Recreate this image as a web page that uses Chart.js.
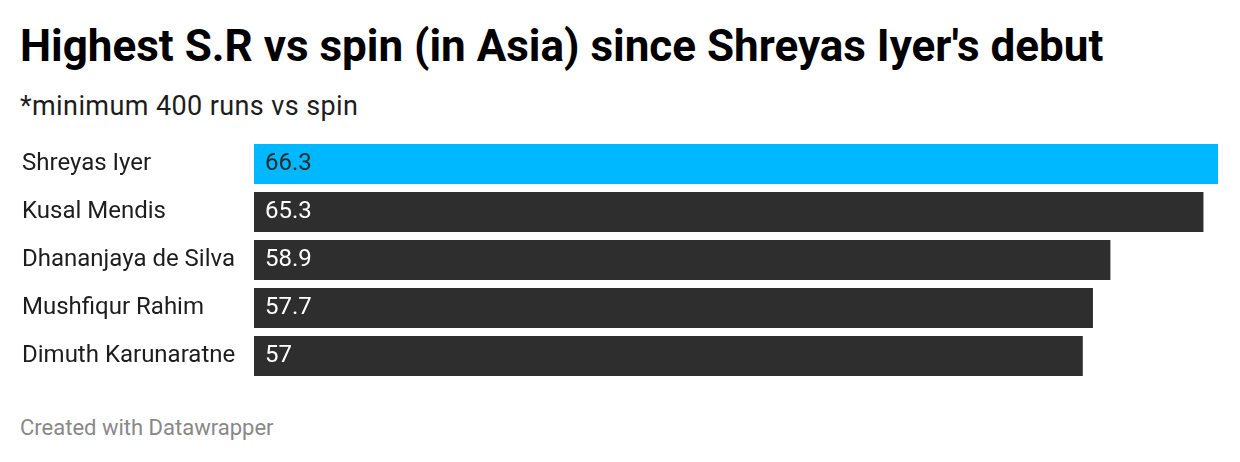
<!DOCTYPE html>
<html>
<head>
<meta charset="utf-8">
<script src="https://cdn.jsdelivr.net/npm/chart.js@4"></script>
<style>
  html, body { margin: 0; padding: 0; background: #fff; }
  body { width: 1240px; height: 462px; position: relative; overflow: hidden; font-family: Roboto, sans-serif; }
  .txt { position: absolute; left: 20px; line-height: 1; white-space: nowrap; }
  #title { top: 24px; font-size: 44px; font-weight: 700; color: #000; }
  #subtitle { top: 93px; font-size: 27px; color: #1d1d1d; letter-spacing: 0.4px; }
  #footer { top: 417px; font-size: 22px; color: #888; }
  #wrap { position: absolute; left: 0; top: 140px; width: 1240px; height: 240px; }
</style>
</head>
<body>
<div class="txt" id="title">Highest S.R vs spin (in Asia) since Shreyas Iyer's debut</div>
<div class="txt" id="subtitle">*minimum 400 runs vs spin</div>
<div class="txt" id="footer">Created with Datawrapper</div>
<div id="wrap"><canvas id="chart"></canvas></div>
<script>
// Strike rate vs spin
const players = ['Shreyas Iyer', 'Kusal Mendis', 'Dhananjaya de Silva', 'Mushfiqur Rahim', 'Dimuth Karunaratne'];
const strikeRates = [66.3, 65.3, 58.9, 57.7, 57];
const barColors = ['#00b8ff', '#2e2e2e', '#2e2e2e', '#2e2e2e', '#2e2e2e'];
const valueColors = ['#2a2a2a', '#fff', '#fff', '#fff', '#fff'];

// Writes the value inside the start of each bar
const valueLabels = {
    id: 'valueLabels',
    afterDatasetsDraw: function(chart) {
        const ctx = chart.ctx;
        const meta = chart.getDatasetMeta(0);
        ctx.save();
        ctx.font = '24px Roboto, sans-serif';
        ctx.textBaseline = 'middle';
        ctx.textAlign = 'left';
        meta.data.forEach(function(bar, i) {
            ctx.fillStyle = valueColors[i];
            ctx.fillText(String(strikeRates[i]), bar.base + 11, bar.y);
        });
        ctx.restore();
    }
};

new Chart(document.getElementById('chart'), {
    type: 'bar',
    data: {
        labels: players,
        datasets: [{
            data: strikeRates,
            backgroundColor: barColors,
            borderWidth: 0,
            barPercentage: 40 / 48,
            categoryPercentage: 1
        }]
    },
    options: {
        indexAxis: 'y',
        responsive: true,
        maintainAspectRatio: false,
        animation: false,
        layout: { padding: { left: 22, right: 22, top: 0, bottom: 0 } },
        plugins: {
            legend: { display: false },
            tooltip: { enabled: false }
        },
        scales: {
            x: {
                display: false,
                min: 0,
                max: 66.3
            },
            y: {
                grid: { display: false },
                border: { display: false },
                // fixed label column, no extra padding above/below the bars
                afterFit: function(scale) {
                    scale.width = 232;
                    scale.paddingTop = 0;
                    scale.paddingBottom = 0;
                },
                ticks: {
                    crossAlign: 'far',
                    padding: 0,
                    color: '#1d1d1d',
                    font: { family: 'Roboto', size: 24 }
                }
            }
        }
    },
    plugins: [valueLabels]
});
</script>
</body>
</html>
